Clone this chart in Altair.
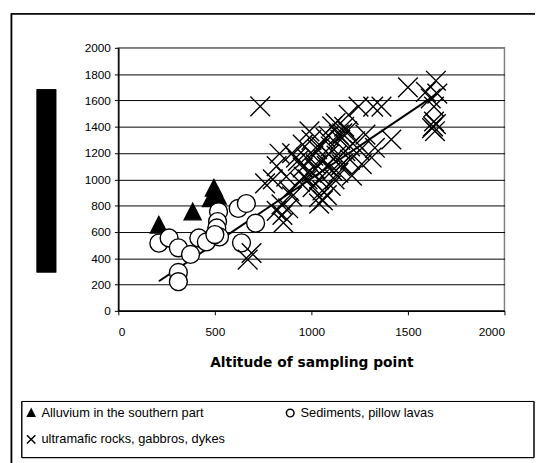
import altair as alt
import pandas as pd

# ---- data ----
groups = ["Alluvium in the southern part", "Sediments, pillow lavas",
          "ultramafic rocks, gabbros, dykes"]

tri_x = [210, 385, 480, 515, 495]
tri_y = [650, 750, 850, 870, 930]

circ_x = [210, 263, 311, 374, 311, 311, 417, 456, 519, 514, 510, 524, 500, 621, 663, 638, 711]
circ_y = [515, 554, 479, 429, 292, 222, 554, 524, 754, 679, 630, 562, 580, 779, 816, 517, 667]

cross_x = [735, 670, 690, 760, 800, 820, 835, 845, 855, 820, 885, 870, 850, 880, 900,
           920, 955, 990, 955, 972, 1006, 1023, 1040, 1040, 1057, 1000, 980, 940, 960, 1010,
           1030, 1050, 1060, 1074, 1091, 1108, 1108, 1125, 1142, 1159, 1176, 1185, 1193, 1210,
           1227, 1244, 1261, 1312, 1320, 1329, 1363, 1414, 1500, 1593, 1618, 1635, 1645, 1652,
           1635, 1630, 1640, 1625, 1645, 1080, 1060, 1100, 1120, 1140, 1150, 1160, 1170, 1100,
           1090, 1130, 1200, 1080, 1040, 1020, 930, 900, 1000, 1150, 1200, 1250, 1280]
cross_y = [1555, 390, 440, 970, 1000, 1100, 1195, 810, 670, 760, 910, 1020, 730, 780, 870,
           1165, 1265, 1365, 1090, 1165, 940, 1115, 865, 815, 915, 1050, 1000, 980, 1020, 1180,
           1230, 1250, 1150, 1315, 1190, 1403, 1066, 1428, 1340, 1115, 1215, 1366, 1490, 1028,
           1290, 1553, 1116, 1166, 1553, 1240, 1553, 1303, 1700, 1665, 1615, 1553, 1750, 1652,
           1440, 1403, 1366, 1390, 1420, 880, 840, 950, 1000, 1050, 1300, 1350, 1400, 1250,
           1330, 1180, 1250, 1100, 1000, 1080, 1140, 1200, 1300, 1100, 1150, 1220, 1340]

trend_x = [210, 1650]
trend_y = [225, 1650]

x_ticks = [0, 500, 1000, 1500, 2000]
y_ticks = [0, 200, 400, 600, 800, 1000, 1200, 1400, 1600, 1800, 2000]

# ---- tables ----
pts = pd.concat([
    pd.DataFrame({"alt": tri_x, "val": tri_y, "group": groups[0]}),
    pd.DataFrame({"alt": circ_x, "val": circ_y, "group": groups[1]}),
    pd.DataFrame({"alt": cross_x, "val": cross_y, "group": groups[2]}),
], ignore_index=True)
pts["order"] = range(len(pts))
trend = pd.DataFrame({"alt": trend_x, "val": trend_y})

FONT = "Liberation Sans"
TRI = "M0,-1L-0.95,0.85L0.95,0.85Z"
XSHAPE = "M-1.1,-1.1L1.1,1.1M-1.1,1.1L1.1,-1.1"

xscale = alt.Scale(domain=[0, 2000], nice=False, zero=False)
yscale = alt.Scale(domain=[0, 2000], nice=False, zero=False)

xaxis = alt.Axis(values=x_ticks, format="d", title="Altitude of sampling point", grid=False,
                 labelFont=FONT, labelFontSize=12, labelColor="black", labelPadding=12,
                 tickColor="black", tickSize=4, domainColor="black", domainWidth=1.5,
                 titleFont="DejaVu Sans", titleFontSize=14, titleFontWeight="bold",
                 titleColor="black", titlePadding=18)
yaxis = alt.Axis(values=y_ticks, format="d", title=None, grid=True,
                 gridColor=alt.condition("datum.value == 2000", alt.value("#808080"), alt.value("black")),
                 gridWidth=1,
                 labelFont=FONT, labelFontSize=12, labelColor="black", labelPadding=4,
                 tickColor="black", tickSize=4, domainColor="black", domainWidth=1.5)

legend = alt.Legend(orient="none", legendX=-95, legendY=364, direction="horizontal",
                    columns=2, columnPadding=58, rowPadding=12, title=None,
                    labelFont=FONT, labelFontSize=13, labelColor="black", labelOffset=4,
                    symbolSize=60, symbolStrokeWidth=1.5,
                    padding=0, labelLimit=400)

shape_scale = alt.Scale(domain=groups, range=[TRI, "circle", XSHAPE])
fill_scale = alt.Scale(domain=groups, range=["black", "white", "transparent"])
stroke_scale = alt.Scale(domain=groups, range=["black", "black", "black"])

line = alt.Chart(trend).mark_line(color="black", strokeWidth=2).encode(
    x=alt.X("alt:Q", scale=xscale, axis=xaxis),
    y=alt.Y("val:Q", scale=yscale, axis=yaxis),
)

points = alt.Chart(pts).mark_point(size=330, strokeWidth=1.4, opacity=1).encode(
    x=alt.X("alt:Q", scale=xscale, axis=xaxis),
    y=alt.Y("val:Q", scale=yscale, axis=yaxis),
    shape=alt.Shape("group:N", scale=shape_scale, legend=legend),
    fill=alt.Fill("group:N", scale=fill_scale, legend=legend),
    stroke=alt.Stroke("group:N", scale=stroke_scale, legend=legend),
    order=alt.Order("order:Q"),
)

legend_box = alt.Chart(trend).mark_rect(fill="transparent", stroke="black", strokeWidth=1).encode(
    x=alt.value(-98), x2=alt.value(422), y=alt.value(359), y2=alt.value(416))
frame = alt.Chart(trend).mark_rect(fill="transparent", stroke="black", strokeWidth=1.5).encode(
    x=alt.value(-108.5), x2=alt.value(440), y=alt.value(-34.5), y2=alt.value(440))
ybox = alt.Chart(trend).mark_rect(fill="black").encode(
    x=alt.value(-83), x2=alt.value(-63), y=alt.value(42), y2=alt.value(228))

chart = alt.layer(frame, legend_box, ybox, line, points).properties(
    width=392, height=267,
    autosize=alt.AutoSizeParams(type="none"),
    padding={"left": 112, "top": 37, "right": 31, "bottom": 151},
    background="white",
).configure_view(stroke="#808080", strokeWidth=1.5)

chart.save("out.html", embed_options={"renderer": "svg", "actions": False})
